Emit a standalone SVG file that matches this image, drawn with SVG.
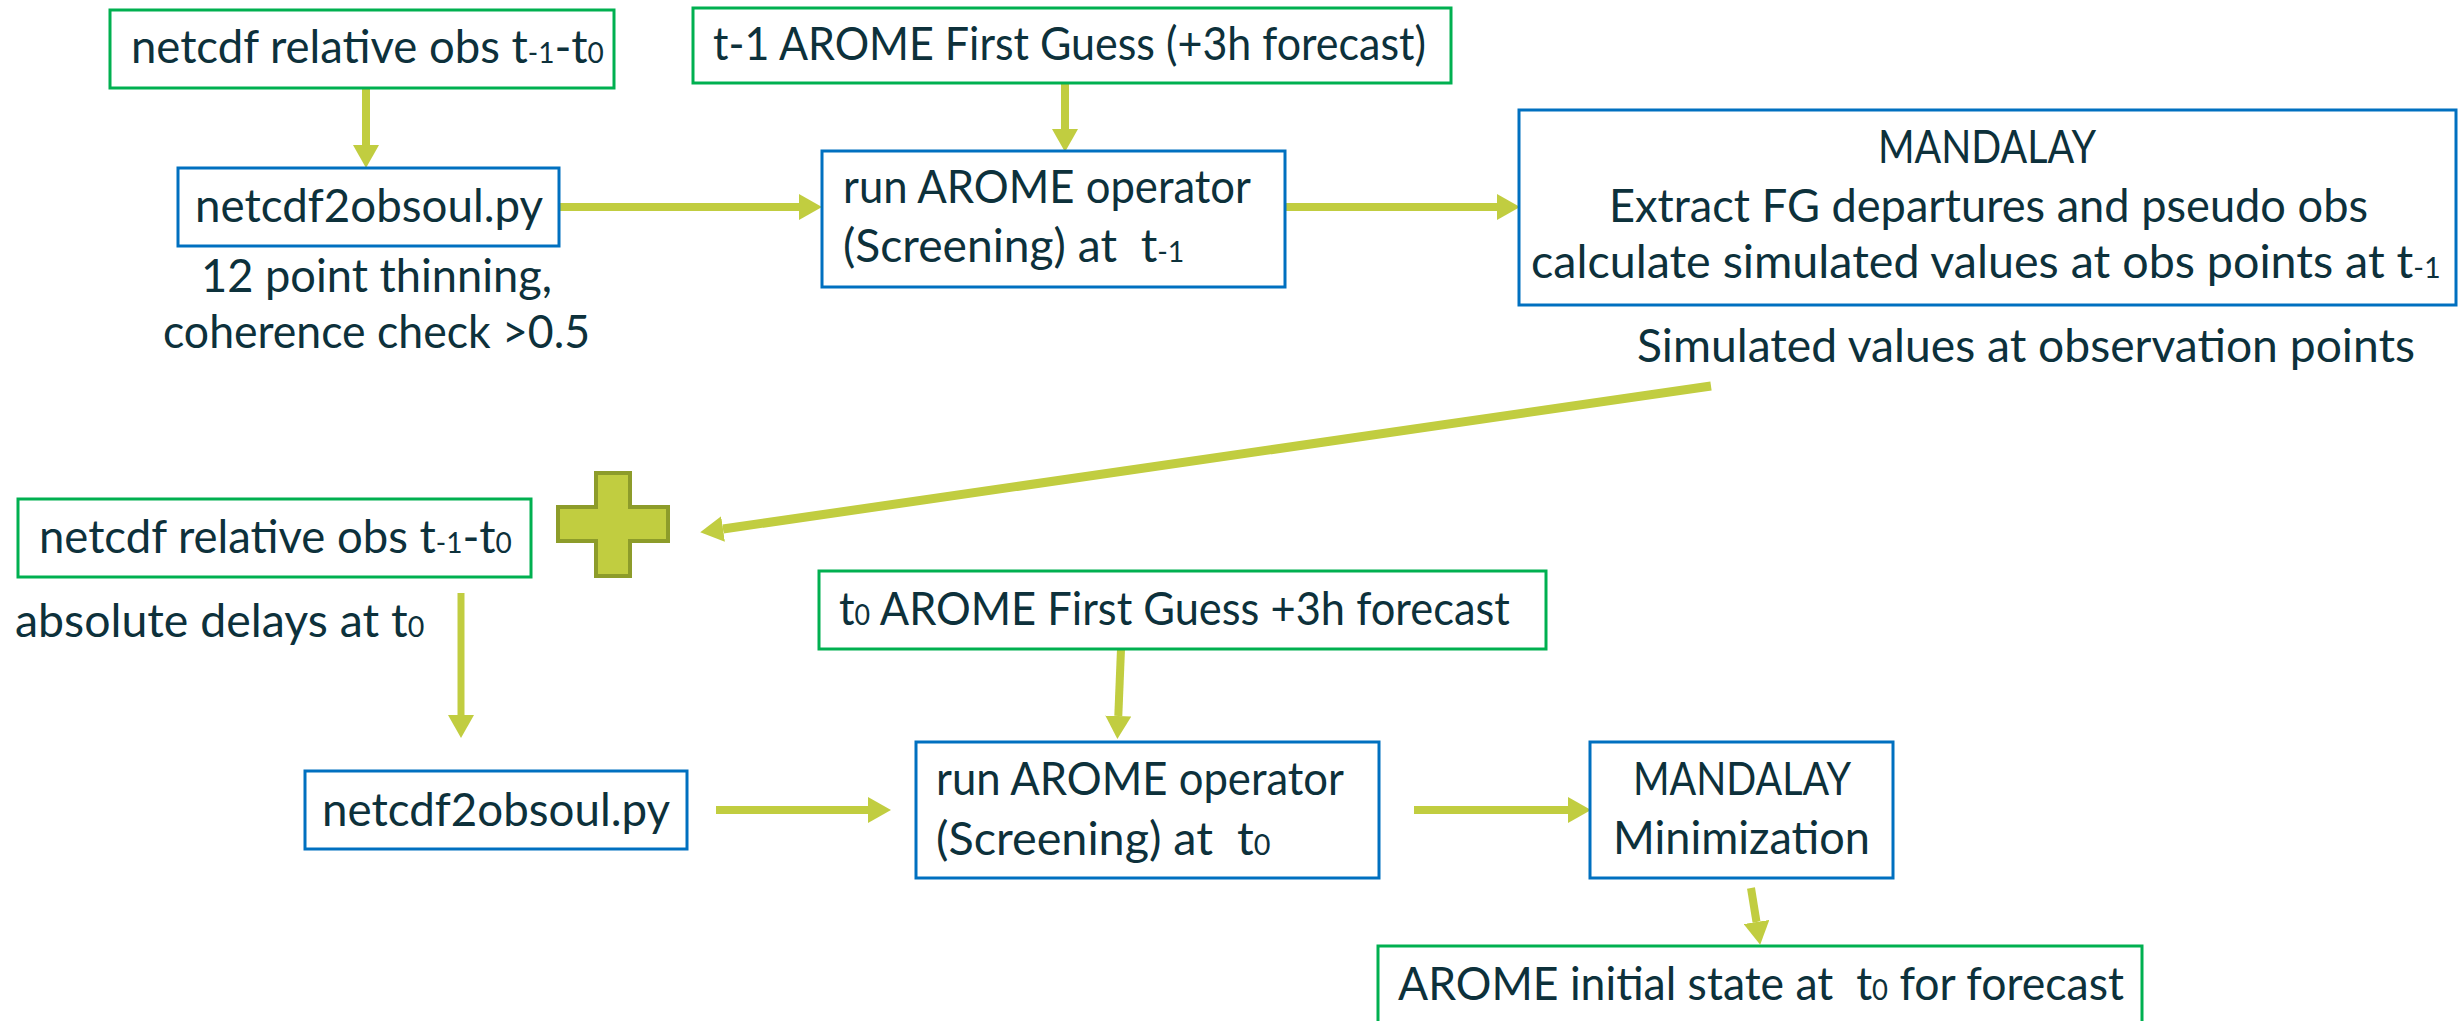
<svg xmlns="http://www.w3.org/2000/svg" width="2464" height="1021" viewBox="0 0 2464 1021">
<defs>
<style>
.bg{fill:#ffffff}
.gbox{fill:#ffffff;stroke:#00b050;stroke-width:3}
.bbox{fill:#ffffff;stroke:#0070c0;stroke-width:3}
.t{font-family:Lato,"Liberation Sans",sans-serif;font-size:47px;fill:#0d313b}
.s{font-size:29px}
.arr{stroke:#c1cd40;stroke-width:8;fill:none;marker-end:url(#ah)}
.plus{fill:#c1cd40;stroke:#8d9c2a;stroke-width:4}
</style>
<marker id="ah" markerUnits="userSpaceOnUse" markerWidth="24" markerHeight="26" refX="0" refY="13" orient="auto">
<path d="M0,0 L23,13 L0,26 z" fill="#c1cd40"/>
</marker>
</defs>
<rect class="bg" x="0" y="0" width="2464" height="1021"/>

<g id="connectors">
<line class="arr" x1="366" y1="88" x2="366" y2="145"/>
<line class="arr" x1="1065" y1="83" x2="1065" y2="129"/>
<line class="arr" x1="559" y1="207" x2="799" y2="207"/>
<line class="arr" x1="1285" y1="207" x2="1497" y2="207"/>
<line class="arr" x1="1711" y1="386" x2="723" y2="529" style="stroke-width:9"/>
<line class="arr" x1="461" y1="593" x2="461" y2="715" style="stroke-width:7"/>
<line class="arr" x1="1121" y1="649" x2="1118.3" y2="716"/>
<line class="arr" x1="716" y1="810" x2="868" y2="810"/>
<line class="arr" x1="1414" y1="810" x2="1568" y2="810"/>
<line class="arr" x1="1751" y1="888" x2="1756.5" y2="922"/>
</g>

<g id="n-netcdf-rel-1">
<rect class="gbox" x="110" y="10" width="504" height="78"/>
<text class="t" transform="translate(131,63) scale(0.967,1)">netcdf relative obs t<tspan class="s">-1</tspan>-t<tspan class="s">0</tspan></text>
</g>

<g id="n-netcdf2obsoul-1">
<rect class="bbox" x="178" y="168" width="381" height="78"/>
<text class="t" x="195" y="222" textLength="348" lengthAdjust="spacingAndGlyphs">netcdf2obsoul.py</text>
<text class="t" x="201" y="292" textLength="351" lengthAdjust="spacingAndGlyphs">12 point thinning,</text>
<text class="t" x="163" y="348" textLength="427" lengthAdjust="spacingAndGlyphs">coherence check &gt;0.5</text>
</g>

<g id="n-fg-t-1">
<rect class="gbox" x="693" y="8" width="758" height="75"/>
<text class="t" x="713" y="60" textLength="713" lengthAdjust="spacingAndGlyphs">t-1 AROME First Guess (+3h forecast)</text>
</g>

<g id="n-screening-t-1">
<rect class="bbox" x="822" y="151" width="463" height="136"/>
<text class="t" x="843" y="203" textLength="408" lengthAdjust="spacingAndGlyphs">run AROME operator</text>
<text class="t" xml:space="preserve" transform="translate(843,262) scale(0.983,1)">(Screening) at  t<tspan class="s">-1</tspan></text>
</g>

<g id="n-mandalay-1">
<rect class="bbox" x="1519" y="110" width="937" height="195"/>
<text class="t" x="1878" y="163" textLength="218" lengthAdjust="spacingAndGlyphs">MANDALAY</text>
<text class="t" x="1609" y="222" textLength="759" lengthAdjust="spacingAndGlyphs">Extract FG departures and pseudo obs</text>
<text class="t" transform="translate(1531,278) scale(0.992,1)">calculate simulated values at obs points at t<tspan class="s">-1</tspan></text>
<text class="t" x="1637" y="362" textLength="778" lengthAdjust="spacingAndGlyphs">Simulated values at observation points</text>
</g>

<g id="n-plus">
<polygon class="plus" points="596,473 630,473 630,507 668,507 668,541 630,541 630,576 596,576 596,541 558,541 558,507 596,507"/>
</g>

<g id="n-netcdf-rel-2">
<rect class="gbox" x="18" y="499" width="513" height="78"/>
<text class="t" transform="translate(39,553) scale(0.967,1)">netcdf relative obs t<tspan class="s">-1</tspan>-t<tspan class="s">0</tspan></text>
<text class="t" transform="translate(15,637) scale(0.988,1)">absolute delays at t<tspan class="s">0</tspan></text>
</g>

<g id="n-netcdf2obsoul-2">
<rect class="bbox" x="305" y="771" width="382" height="78"/>
<text class="t" x="322" y="826" textLength="348" lengthAdjust="spacingAndGlyphs">netcdf2obsoul.py</text>
</g>

<g id="n-fg-t0">
<rect class="gbox" x="819" y="571" width="727" height="78"/>
<text class="t" transform="translate(839,625) scale(0.924,1)">t<tspan class="s">0</tspan> AROME First Guess +3h forecast</text>
</g>

<g id="n-screening-t0">
<rect class="bbox" x="916" y="742" width="463" height="136"/>
<text class="t" x="936" y="795" textLength="408" lengthAdjust="spacingAndGlyphs">run AROME operator</text>
<text class="t" xml:space="preserve" transform="translate(936,855) scale(0.994,1)">(Screening) at  t<tspan class="s">0</tspan></text>
</g>

<g id="n-mandalay-2">
<rect class="bbox" x="1590" y="742" width="303" height="136"/>
<text class="t" x="1633" y="795" textLength="218" lengthAdjust="spacingAndGlyphs">MANDALAY</text>
<text class="t" x="1613" y="854" textLength="257" lengthAdjust="spacingAndGlyphs">Minimization</text>
</g>

<g id="n-initial-state">
<rect class="gbox" x="1378" y="946" width="764" height="90"/>
<text class="t" xml:space="preserve" transform="translate(1398,1000) scale(0.948,1)">AROME initial state at  t<tspan class="s">0</tspan> for forecast</text>
</g>
</svg>
